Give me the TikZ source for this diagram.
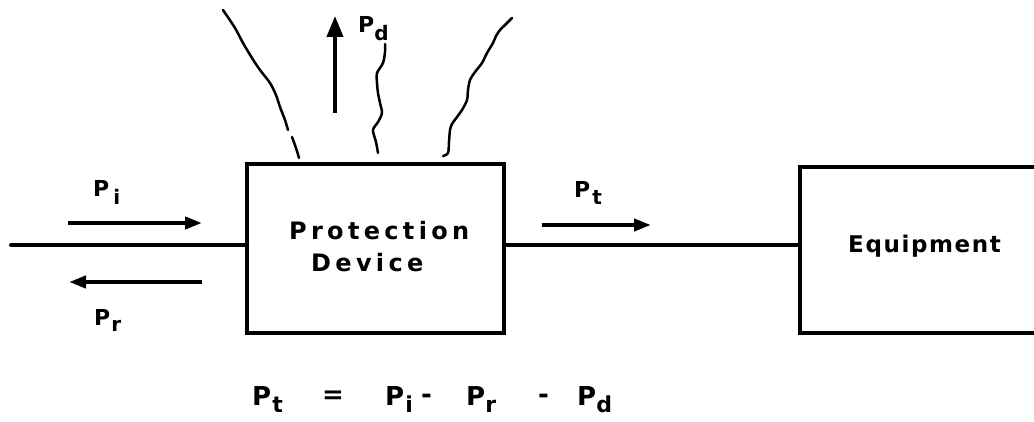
\documentclass[tikz,border=0pt]{standalone}
\usepackage{fontspec}
\setmainfont{DejaVu Sans}
\usetikzlibrary{arrows.meta}
\newcommand\PSub[4]{P\kern#2pt\raisebox{-#3pt}{\fontsize{#4}{#4}\selectfont\bfseries #1}}
\tikzset{
  ln/.style={line width=4pt, line cap=round},
  wav/.style={line width=2.5pt, line cap=round, line join=round},
  arr/.style={line width=4pt, -{Triangle[length=17pt,width=12pt]}},
  blk/.style={line width=4pt, line join=miter},
  lbl/.style={font=\fontsize{22}{22}\selectfont\bfseries, inner sep=0pt, anchor=base west},
  eqs/.style={font=\fontsize{26}{26}\selectfont\bfseries, inner sep=0pt, anchor=base west},
}
\begin{document}
\begin{tikzpicture}[x=1pt,y=-1pt]
\useasboundingbox (0,0) rectangle (1034,422);
% boxes
\draw[blk] (247,164) rectangle (504,333);
\coordinate (pdL) at (247,245);
\coordinate (pdR) at (504,245);
\coordinate (eqTR) at (1034,167);
\coordinate (eqBR) at (1034,333);
\draw[blk] (eqTR) -- (800,167) -- (800,333) -- (eqBR);
\coordinate (eqL) at (800,245);
\node[font=\fontsize{24}{24}\selectfont\bfseries\addfontfeatures{LetterSpace=18}, inner sep=0pt, anchor=base west] (prot) at (289,240) {Protection};
\node[font=\fontsize{24}{24}\selectfont\bfseries\addfontfeatures{LetterSpace=18}, inner sep=0pt, anchor=base west] (dev) at (311,272) {Device};
\node[font=\fontsize{23}{23}\selectfont\bfseries\addfontfeatures{LetterSpace=7}, inner sep=0pt, anchor=base west] (equip) at (848,253) {Equipment};
% lines
\coordinate (inL) at (11,245);
\draw[ln] (inL) -- (pdL);
\draw[ln] (pdR) -- (eqL);
% arrows
\coordinate (a1) at (68,223); \coordinate (a2) at (202,223);
\draw[arr] (a1) -- (a2);
\coordinate (r1) at (202,282); \coordinate (r2) at (69,282);
\draw[arr] (r1) -- (r2);
\coordinate (t1) at (542,225); \coordinate (t2) at (651,225);
\draw[arr] (t1) -- (t2);
\coordinate (d1) at (335,113); \coordinate (d2) at (335,16);
\draw[arr, -{Triangle[length=21pt,width=16pt]}] (d1) -- (d2);
% labels
\node[lbl] (pi) at (93,197) {\PSub{i}{4}{8}{20}};
\node[lbl] (pr) at (94,325) {\PSub{r}{1}{6}{20}};
\node[lbl] (pt) at (574,198) {\PSub{t}{2}{7}{20}};
\node[lbl] (pd) at (358,33) {\PSub{d}{0}{8}{20}};
% wavy lines
\draw[wav] plot[smooth] coordinates {(223,10) (235,28) (243,43) (252,58) (260,70) (270,83) (276,95) (280,107) (285,120) (288,130)};
\draw[wav] plot[smooth] coordinates {(292,137) (296,148) (299,158)};
\draw[wav] plot[smooth] coordinates {(385,44) (385,52) (383,63) (377,73) (377,83) (378,93) (380,103) (382,113) (378,122) (373,130) (376,142) (378,153)};
\draw[wav] plot[smooth] coordinates {(512,18) (504,26) (500,30) (496,36) (493,43) (487,53) (482,63) (475,72) (470,80) (468,90) (467,100) (462,110) (457,117) (452,124) (450,130) (449,142) (448,153) (443,156)};
% equation
\node[eqs] (e1) at (252,405) {\PSub{t}{1}{7}{22}};
\node[eqs] (e2) at (322,403) {=};
\node[eqs] (e3) at (385,405) {\PSub{i}{1}{7}{22}};
\node[eqs] (e4) at (421,403) {-};
\node[eqs] (e5) at (466,405) {\PSub{r}{0}{7}{22}};
\node[eqs] (e6) at (538,403) {-};
\node[eqs] (e7) at (577,405) {\PSub{d}{0}{7}{22}};
\end{tikzpicture}
\end{document}
